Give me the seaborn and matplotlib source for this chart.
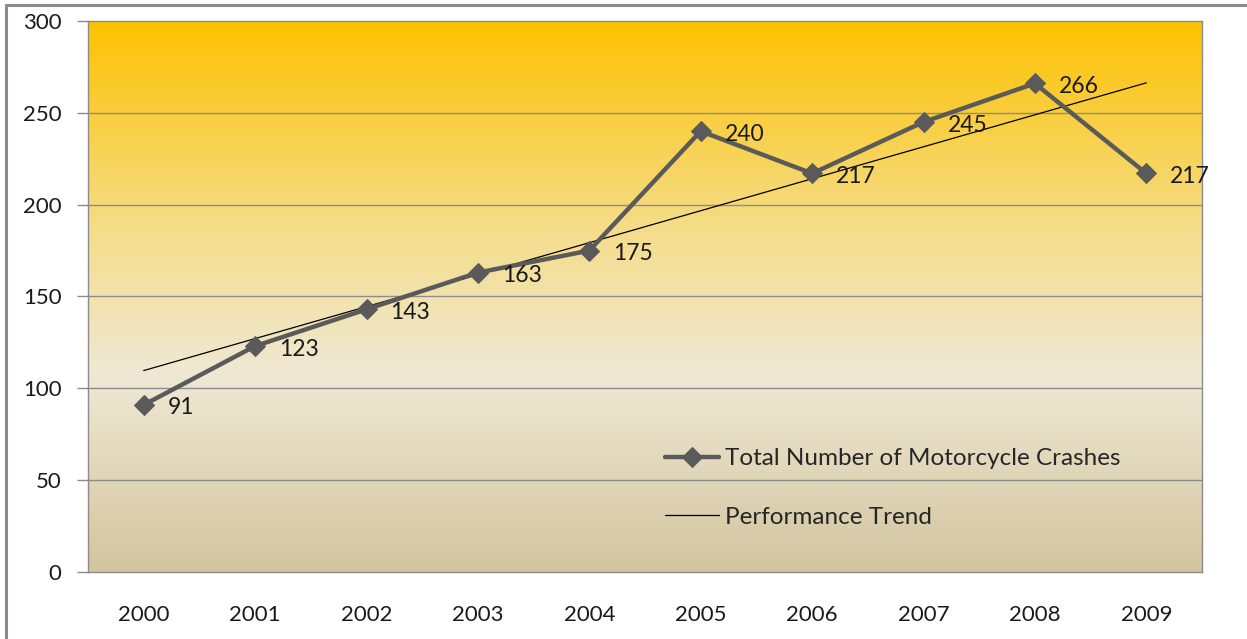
import matplotlib.pyplot as plt
import matplotlib.colors as mcolors
from matplotlib.lines import Line2D
import seaborn as sns
import pandas as pd
import numpy as np

# chart values
years = ["2000", "2001", "2002", "2003", "2004", "2005", "2006", "2007", "2008", "2009"]
crashes = [91, 123, 143, 163, 175, 240, 217, 245, 266, 217]

sns.set_style("white")
plt.rcParams['font.family'] = ['Lato', 'DejaVu Sans']

df = pd.DataFrame({"pos": np.arange(len(years)), "crashes": crashes})
slope, intercept = np.polyfit(df["pos"], df["crashes"], 1)
df["trend"] = intercept + slope * df["pos"]

fig = plt.figure(figsize=(12.47, 6.39), dpi=100)
ax = fig.add_axes([88 / 1247, 1 - 572 / 639, 1114 / 1247, 551 / 639])

# gradient background (gold top -> cream -> tan bottom)
cmap = mcolors.LinearSegmentedColormap.from_list(
    "bg", [(0.0, "#d3c59f"), (0.36, "#efe8d4"), (0.62, "#f5dd8a"), (1.0, "#fdc200")])
grad = np.linspace(0, 1, 256).reshape(-1, 1)
ax.imshow(grad, cmap=cmap, aspect="auto", origin="lower",
          extent=(-0.5, 9.5, 0, 300), zorder=0)

for v in [50, 100, 150, 200, 250]:
    ax.axhline(v, color="#8c8c8c", lw=1, zorder=1)

sns.lineplot(data=df, x="pos", y="crashes", ax=ax, color="#5a5a5a", lw=3.2,
             marker="D", markersize=10, markeredgecolor="#5a5a5a",
             label="Total Number of Motorcycle Crashes", zorder=4)
sns.lineplot(data=df, x="pos", y="trend", ax=ax, color="black", lw=0.9,
             label="Performance Trend", zorder=3)

for x, y in zip(df["pos"], df["crashes"]):
    ax.annotate(str(y), (x, y), xytext=(24, -3), textcoords="offset pixels",
                ha="left", va="center", fontsize=16.5, color="#1a1a1a", zorder=5)

ax.set_xlim(-0.5, 9.5)
ax.set_ylim(0, 300)
ax.set_yticks([0, 50, 100, 150, 200, 250, 300])
ax.set_xticks(np.arange(-0.5, 10, 1))
ax.set_xticklabels([])
ax.set_xticks(np.arange(len(years)), minor=True)
ax.set_xticklabels(years, minor=True)
ax.tick_params(axis="x", which="major", length=8, color="#8c8c8c", width=1)
ax.tick_params(axis="x", which="minor", length=0, pad=24, labelsize=16, labelcolor="#1a1a1a")
ax.tick_params(axis="y", length=8, color="#8c8c8c", width=1, pad=11, labelsize=16,
               labelcolor="#1a1a1a", left=True)
ax.set_xlabel("")
ax.set_ylabel("")
for s in ax.spines.values():
    s.set_color("#8c8c8c")
    s.set_linewidth(1)

ax.legend(loc="upper left", bbox_to_anchor=(0.518, 0.225), frameon=False,
          fontsize=17.5, labelspacing=1.55, handlelength=2.2, handletextpad=0.25,
          borderpad=0, borderaxespad=0)

# outer chart border (left and top edges)
fig.add_artist(Line2D([6 / 1247, 6 / 1247], [0, 1 - 5 / 639], color="#8c8c8c", lw=2.2))
fig.add_artist(Line2D([6 / 1247, 1], [1 - 5 / 639, 1 - 5 / 639], color="#8c8c8c", lw=2.2))

fig.savefig("out.png", dpi=100)
